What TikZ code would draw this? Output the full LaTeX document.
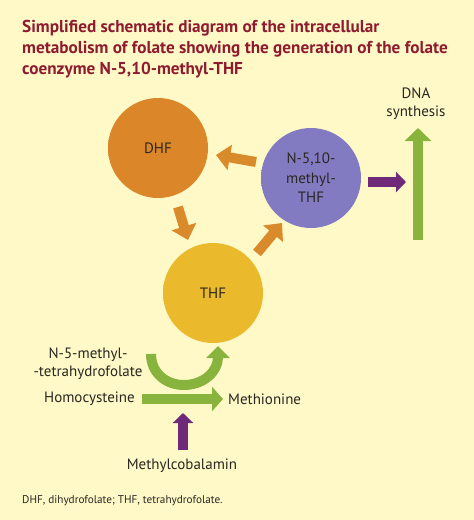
\documentclass[tikz,border=0pt]{standalone}
\usepackage{fontspec}
\setmainfont{PT Sans}
\usetikzlibrary{arrows.meta}
\definecolor{bg}{HTML}{FEF9C6}
\definecolor{titlec}{HTML}{8E1B2F}
\definecolor{txt}{HTML}{2A2622}
\definecolor{dhfc}{HTML}{DB8729}
\definecolor{dhfd}{HTML}{CC721E}
\definecolor{thfc}{HTML}{EAB92C}
\definecolor{thfd}{HTML}{DDA01F}
\definecolor{purc}{HTML}{827BC2}
\definecolor{purd}{HTML}{6D66AE}
\definecolor{orarr}{HTML}{D98A2A}
\definecolor{grn}{HTML}{88B43E}
\definecolor{vio}{HTML}{6E2A78}
\pgfdeclareradialshading{dhfshade}{\pgfpoint{0bp}{0bp}}{color(0bp)=(dhfc); color(40bp)=(dhfc); color(50bp)=(dhfd); color(100bp)=(dhfd)}
\pgfdeclareradialshading{thfshade}{\pgfpoint{0bp}{0bp}}{color(0bp)=(thfc); color(40bp)=(thfc); color(50bp)=(thfd); color(100bp)=(thfd)}
\pgfdeclareradialshading{purshade}{\pgfpoint{0bp}{0bp}}{color(0bp)=(purc); color(40bp)=(purc); color(50bp)=(purd); color(100bp)=(purd)}
\begin{document}
\begin{tikzpicture}[x=1pt,y=-1pt,
  ball/.style={circle, minimum size=100pt, inner sep=0pt, shade, text=txt,
    font=\fontsize{15}{19.5}\selectfont, align=center},
  lbl/.style={text=txt, font=\fontsize{15}{18}\selectfont, align=center, inner sep=0pt},
  titletext/.style={text=titlec, font=\bfseries\fontsize{17.2}{21}\selectfont, anchor=base west, inner sep=0pt},
  orangearrow/.style={draw=orarr, line width=10pt, -{Triangle[length=14pt,width=25pt]}},
  greenarrow/.style={draw=grn, line width=10pt, -{Triangle[length=13pt,width=26pt]}},
  violetarrow/.style={draw=vio, line width=10pt, -{Triangle[length=10pt,width=20pt]}}]
\path[fill=bg] (0,0) rectangle (474,520);
\useasboundingbox (0,0) rectangle (474,520);
% title
\node[titletext] (t1) at (22,32) {Simplified schematic diagram of the intracellular};
\node[titletext] (t2) at (22,53) {metabolism of folate showing the generation of the folate};
\node[titletext] (t3) at (22,74) {coenzyme N-5,10-methyl-THF};
% circles
\node[ball, shading=dhfshade] (dhf) at (158,148) {DHF};
\node[ball, shading=purshade] (mthf) at (311,178) {N-5,10-\\methyl-\\THF};
\node[ball, shading=thfshade] (thf) at (213,293) {THF};
% orange arrows
\coordinate (a1s) at (256,162); \coordinate (a1e) at (216,155);
\coordinate (a2s) at (178,207); \coordinate (a2e) at (188,240);
\coordinate (a3s) at (257,253); \coordinate (a3e) at (282,223);
\draw[orangearrow] (a1s) -- (a1e);
\draw[orangearrow] (a2s) -- (a2e);
\draw[orangearrow] (a3s) -- (a3e);
% DNA synthesis
\node[lbl] (dna) at (416,104) {DNA\\synthesis};
\coordinate (p1s) at (368,182); \coordinate (p1e) at (406,182);
\draw[violetarrow] (p1s) -- (p1e);
\coordinate (g1s) at (418,240); \coordinate (g1e) at (418,128);
\draw[greenarrow] (g1s) -- (g1e);
% lower part
\node[lbl] (n5) at (88,364) {N-5-methyl-\\-tetrahydrofolate};
\node[lbl, anchor=east] (hcy) at (135,399) {Homocysteine};
\node[lbl, anchor=west] (met) at (228,399) {Methionine};
\node[lbl] (mcb) at (182,466) {Methylcobalamin};
\coordinate (cs) at (151,354);
\coordinate (cb) at (184,385);
\coordinate (ce) at (218,346);
\draw[draw=grn, line width=10pt, -{Triangle[length=12pt,width=23pt]}]
  (cs) .. controls (151,373) and (166,385) .. (cb)
       .. controls (203,385) and (218,372) .. (ce);
\coordinate (g2s) at (142,399); \coordinate (g2e) at (223,399);
\draw[draw=grn, line width=10pt, -{Triangle[length=11pt,width=24pt]}] (g2s) -- (g2e);
\coordinate (p2s) at (183,450); \coordinate (p2e) at (183,413);
\draw[violetarrow] (p2s) -- (p2e);
% footnote
\node[text=txt, font=\fontsize{11.2}{13}\selectfont, anchor=base west, inner sep=0pt] (foot) at (22,503) {DHF, dihydrofolate; THF, tetrahydrofolate.};
\end{tikzpicture}
\end{document}
